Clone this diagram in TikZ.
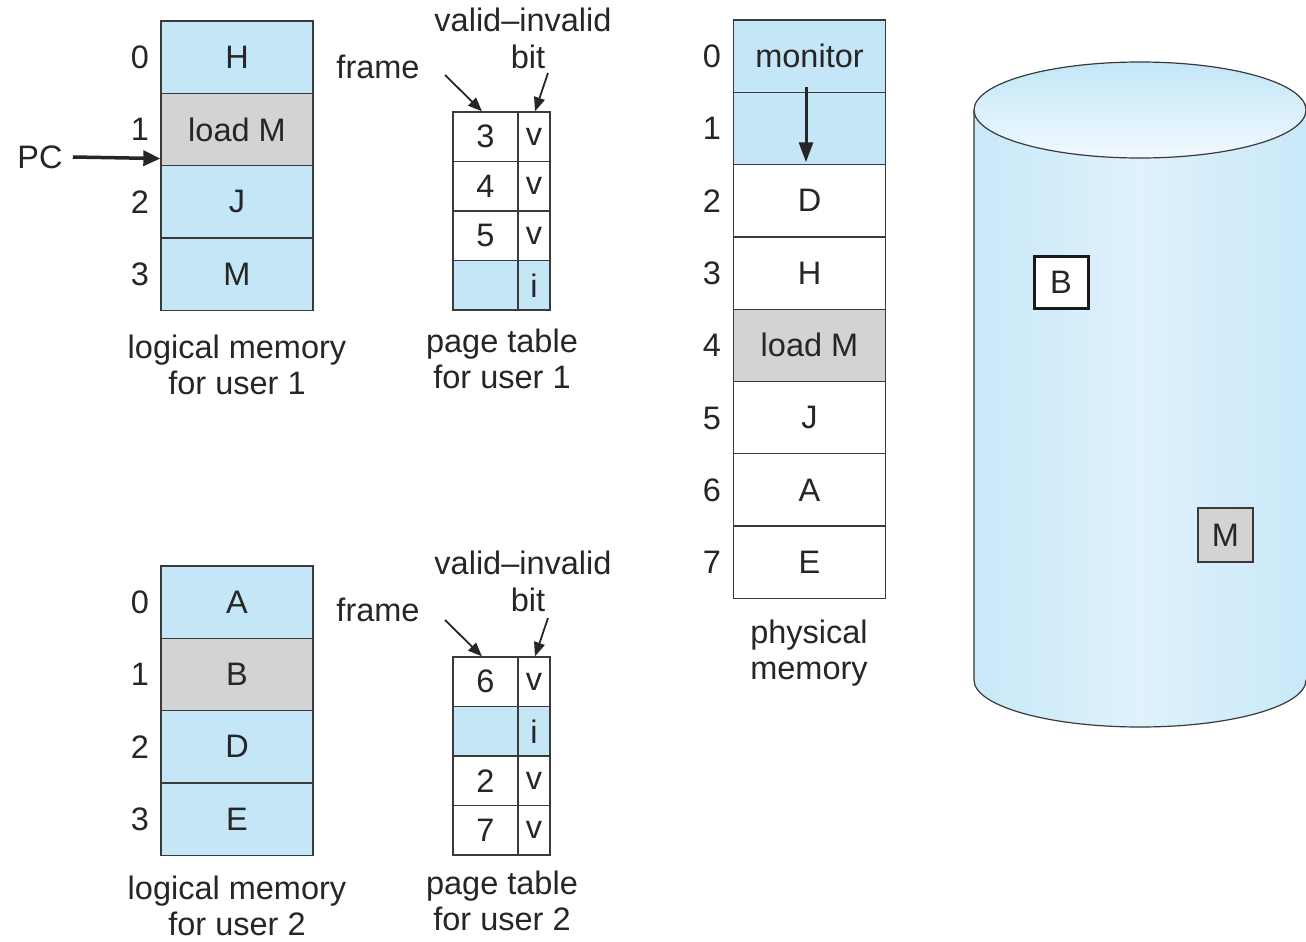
\documentclass[tikz,border=0pt]{standalone}
\usepackage{fontspec}
\setmainfont{Liberation Sans}
\usetikzlibrary{arrows.meta}
\definecolor{mblue}{HTML}{C4E6F7}
\definecolor{mgray}{HTML}{D3D3D3}
\definecolor{bord}{HTML}{3A3A3A}
\definecolor{cylA}{HTML}{B2DEF4}
\definecolor{cylB}{HTML}{CDEAF9}
\definecolor{cylC}{HTML}{E0F2FC}
\definecolor{topA}{HTML}{C2E6F8}
\definecolor{topB}{HTML}{F2F9FD}
\pgfdeclarehorizontalshading{cylshade}{100bp}{color(0bp)=(cylA); color(30bp)=(cylB); color(50bp)=(cylC); color(70bp)=(cylB); color(100bp)=(cylA)}
\begin{document}
\begin{tikzpicture}[x=1pt,y=-1pt,
  fnt/.style={font=\fontsize{32.5}{36}\selectfont},
  txt/.style={fnt, text=black!85, inner sep=0pt, align=center},
  cell/.style={fnt, text=black!85, draw=bord, line width=1.3pt, minimum width=152pt, minimum height=72.3pt, inner sep=0pt},
  fcell/.style={fnt, text=black!85, draw=bord, line width=1.3pt, minimum width=65pt, minimum height=49.5pt, inner sep=0pt},
  bcell/.style={fnt, text=black!85, draw=bord, line width=1.3pt, minimum width=32pt, minimum height=49.5pt, inner sep=0pt},
  bl/.style={fill=mblue},
  gr/.style={fill=mgray},
  wh/.style={fill=white},
  bigarrow/.style={draw=black!85, line width=3.5pt, -{Triangle[length=17pt,width=15pt]}},
  downarrow/.style={draw=black!85, line width=3pt, -{Triangle[length=20pt,width=14pt]}},
  smallarrow/.style={draw=black!85, line width=1.8pt, -{Triangle[length=14pt,width=11pt]}}
]
\useasboundingbox (0,0) rectangle (1306,942);

% ---------- disk cylinder ----------
\path[shading=cylshade] (974,110) -- (974,680)
   arc[start angle=180, end angle=360, x radius=166pt, y radius=47pt]
   -- (1306,110) -- cycle;
\draw[bord, line width=1.2pt] (974,110) -- (974,680)
   arc[start angle=180, end angle=360, x radius=166pt, y radius=47pt];
\draw[bord, line width=1.2pt, top color=topA, bottom color=topB] (1140,110) ellipse [x radius=166pt, y radius=48pt];
\node[fnt, text=black!85, draw=black!90, line width=3pt, fill=white, minimum width=54pt, minimum height=52pt, inner sep=0pt] (diskB) at (1061,282) {B};
\node[fnt, text=black!85, draw=bord, line width=1.3pt, fill=mgray, minimum width=55pt, minimum height=54pt, inner sep=0pt] (diskM) at (1225.5,535) {M};

% ---------- logical memory user 1 ----------
\node[cell,bl] (la0) at (237,57.15) {H};
\node[cell,gr] (la1) at (237,129.45) {load M};
\node[cell,bl] (la2) at (237,201.75) {J};
\node[cell,bl] (la3) at (237,274.05) {M};
\node[txt] (lan0) at (140,57) {0};
\node[txt] (lan1) at (140,129) {1};
\node[txt] (lan2) at (140,202) {2};
\node[txt] (lan3) at (140,274) {3};
\node[txt] (pc) at (40,157) {PC};
\draw[bigarrow] ([xshift=10pt]pc.east) -- ([yshift=7.7pt]la1.south west);
\node[txt] (lalab) at (237,365) {logical memory\\for user 1};

% ---------- page table user 1 ----------
\node[fcell,wh] (pf0) at (485.5,136.75) {3};
\node[fcell,wh] (pf1) at (485.5,186.25) {4};
\node[fcell,wh] (pf2) at (485.5,235.75) {5};
\node[fcell,bl] (pf3) at (485.5,285.25) {};
\node[bcell,wh] (pb0) at (534,136.75) {v};
\node[bcell,wh] (pb1) at (534,186.25) {v};
\node[bcell,wh] (pb2) at (534,235.75) {v};
\node[bcell,bl] (pb3) at (534,285.25) {i};
\node[txt] (vi1) at (523,20) {valid–invalid};
\node[txt] (bit1) at (528,57) {bit};
\node[txt] (fr1) at (378,67) {frame};
\coordinate (fs1) at (445,75);
\coordinate (bs1) at (548,73);
\draw[smallarrow] (fs1) -- ([xshift=-3.5pt]pf0.north);
\draw[smallarrow] (bs1) -- ([xshift=1pt]pb0.north);
\node[txt] (ptlab1) at (502,358.5) {page table\\for user 1};

% ---------- physical memory ----------
\node[cell,bl] (pm0) at (809.5,56.15) {monitor};
\node[cell,bl] (pm1) at (809.5,128.45) {};
\node[cell,wh] (pm2) at (809.5,200.75) {D};
\node[cell,wh] (pm3) at (809.5,273.05) {H};
\node[cell,gr] (pm4) at (809.5,345.35) {load M};
\node[cell,wh] (pm5) at (809.5,417.65) {J};
\node[cell,wh] (pm6) at (809.5,489.95) {A};
\node[cell,wh] (pm7) at (809.5,562.25) {E};
\node[txt] (pmn0) at (712,56) {0};
\node[txt] (pmn1) at (712,128) {1};
\node[txt] (pmn2) at (712,201) {2};
\node[txt] (pmn3) at (712,273) {3};
\node[txt] (pmn4) at (712,345) {4};
\node[txt] (pmn5) at (712,418) {5};
\node[txt] (pmn6) at (712,490) {6};
\node[txt] (pmn7) at (712,562) {7};
\draw[downarrow] ([xshift=-3.5pt,yshift=6pt]pm0.south) -- ([xshift=-3.5pt,yshift=3pt]pm1.south);
\node[txt] (pmlab) at (809,653.5) {physical\\memory};

% ---------- logical memory user 2 ----------
\node[cell,bl] (lb0) at (237,602.15) {A};
\node[cell,gr] (lb1) at (237,674.45) {B};
\node[cell,bl] (lb2) at (237,746.75) {D};
\node[cell,bl] (lb3) at (237,819.05) {E};
\node[txt] (lbn0) at (140,602) {0};
\node[txt] (lbn1) at (140,674) {1};
\node[txt] (lbn2) at (140,747) {2};
\node[txt] (lbn3) at (140,819) {3};
\node[txt] (lblab) at (237,906) {logical memory\\for user 2};

% ---------- page table user 2 ----------
\node[fcell,wh] (qf0) at (485.5,681.75) {6};
\node[fcell,bl] (qf1) at (485.5,731.25) {};
\node[fcell,wh] (qf2) at (485.5,780.75) {2};
\node[fcell,wh] (qf3) at (485.5,830.25) {7};
\node[bcell,wh] (qb0) at (534,681.75) {v};
\node[bcell,bl] (qb1) at (534,731.25) {i};
\node[bcell,wh] (qb2) at (534,780.75) {v};
\node[bcell,wh] (qb3) at (534,830.25) {v};
\node[txt] (vi2) at (523,563) {valid–invalid};
\node[txt] (bit2) at (528,600) {bit};
\node[txt] (fr2) at (378,610) {frame};
\coordinate (fs2) at (445,620);
\coordinate (bs2) at (548,618);
\draw[smallarrow] (fs2) -- ([xshift=-3.5pt]qf0.north);
\draw[smallarrow] (bs2) -- ([xshift=1pt]qb0.north);
\node[txt] (ptlab2) at (502,901) {page table\\for user 2};
\end{tikzpicture}
\end{document}
